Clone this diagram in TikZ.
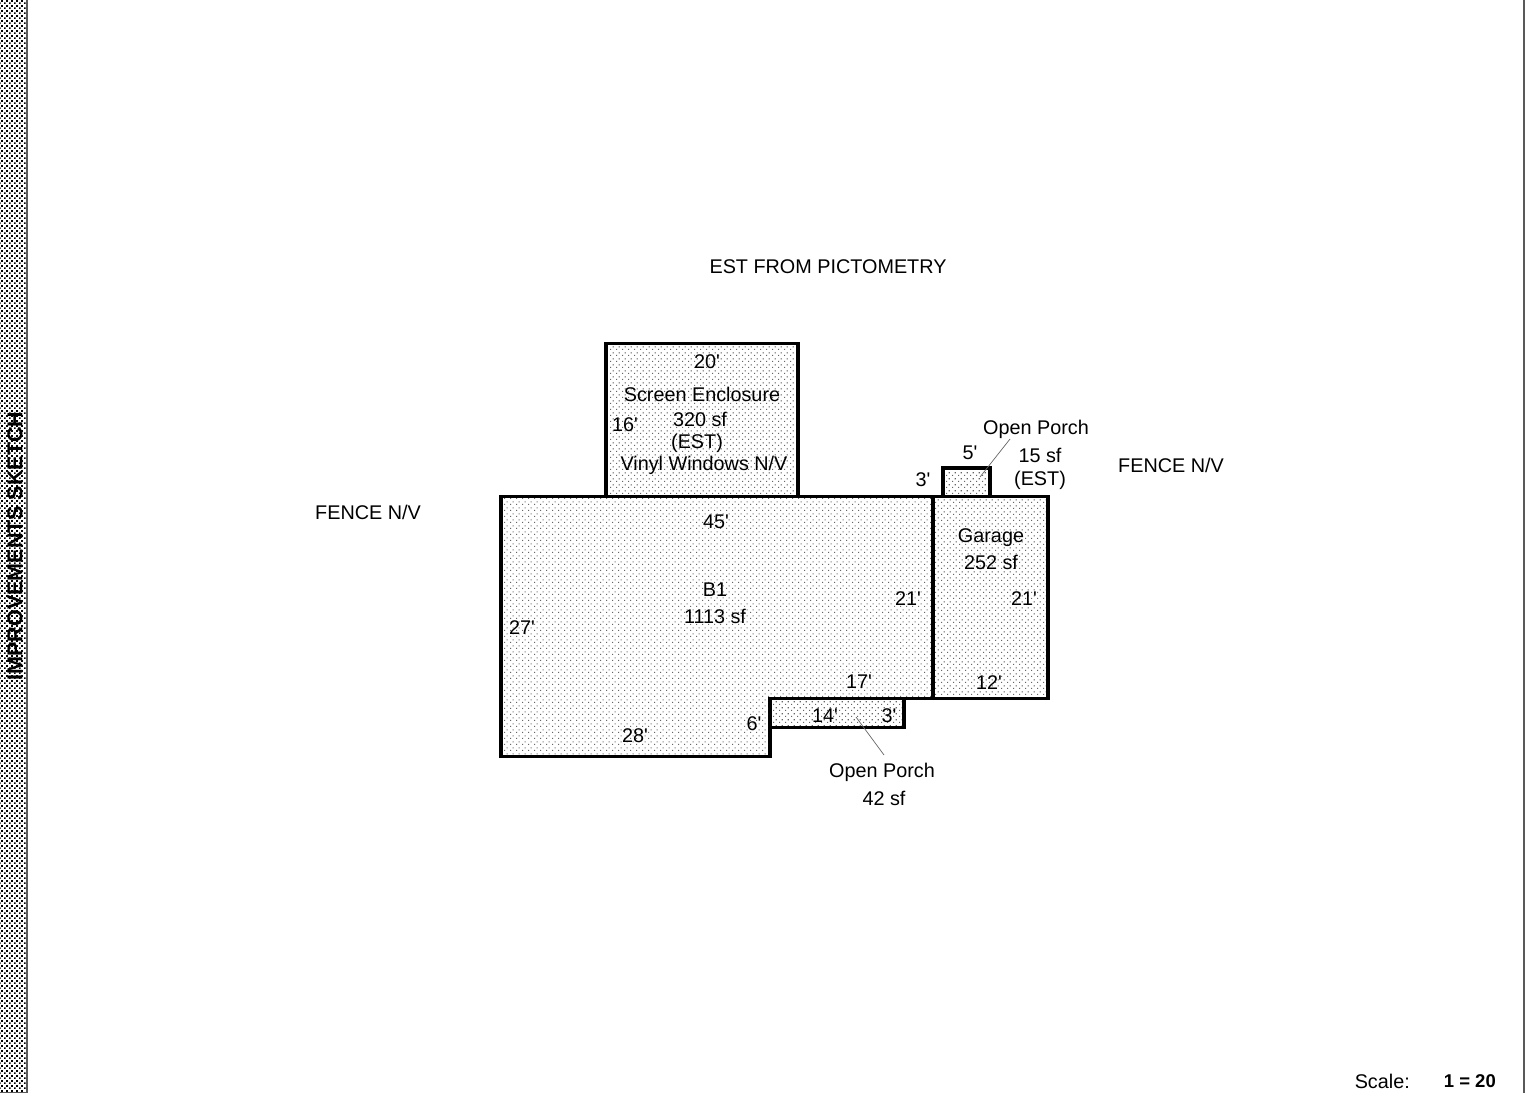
\documentclass[tikz,border=0pt]{standalone}
\usepackage{fontspec}
\newfontfamily\plainf{Liberation Sans}
\usetikzlibrary{patterns}
\pgfdeclarepatternformonly{roomdots}{\pgfpointorigin}{\pgfqpoint{5.6pt}{5.6pt}}{\pgfqpoint{5.6pt}{5.6pt}}{%
  \pgfpathrectangle{\pgfqpoint{0pt}{0pt}}{\pgfqpoint{1.2pt}{1.2pt}}%
  \pgfpathrectangle{\pgfqpoint{2.8pt}{2.8pt}}{\pgfqpoint{1.2pt}{1.2pt}}%
  \pgfusepath{fill}}
\pgfdeclarepatternformonly{sidedots}{\pgfpointorigin}{\pgfqpoint{5pt}{5pt}}{\pgfqpoint{5pt}{5pt}}{%
  \pgfpathrectangle{\pgfqpoint{0pt}{0pt}}{\pgfqpoint{2pt}{2pt}}%
  \pgfpathrectangle{\pgfqpoint{2.5pt}{2.5pt}}{\pgfqpoint{2pt}{2pt}}%
  \pgfusepath{fill}}
\definecolor{dotgray}{gray}{0.4}
\tikzset{
  room/.style={draw=black,line width=3.8pt,line join=miter,pattern=roomdots,pattern color=dotgray},
  lbl/.style={inner sep=0pt,font=\plainf\fontsize{19.8}{23}\selectfont,align=center},
  leader/.style={draw=black!60,line width=0.7pt},
  edge/.style={draw=black!65,line width=1.2pt}
}
\begin{document}
\begin{tikzpicture}[x=1pt,y=-1pt]
\useasboundingbox (0,0) rectangle (1527,1093);
\fill[white] (0,0) rectangle (1527,1093);
% side strip
\fill[pattern=sidedots,pattern color=black] (0,0) rectangle (26,1093);
\draw[edge] (27,0) -- (27,1093);
\draw[edge] (1524,0) -- (1524,1093);
\draw[edge] (27,1092.4) -- (0,1092.4);
\node[rotate=90,font=\plainf\fontsize{21.5}{24}\selectfont\bfseries,inner sep=0pt] (side) at (15,546) {IMPROVEMENTS SKETCH};
% rooms
\path[room] (606,343.5) rectangle (798,496.5);
\path[room] (943,468) rectangle (990,496.5);
\path[room] (770,698.5) rectangle (904,727.5);
\path[room] (501,496.5) -- (933,496.5) -- (933,698.5) -- (770,698.5) -- (770,756.5) -- (501,756.5) -- cycle;
\path[room] (933,496.5) rectangle (1048,698.5);
% labels
\node[lbl] (title) at (828,267) {EST FROM PICTOMETRY};
\node[lbl] (f1) at (368,512) {FENCE N/V};
\node[lbl] (f2) at (1171,465.5) {FENCE N/V};
\node[lbl] (a1) at (707,362) {20'};
\node[lbl] (a2) at (702,394) {Screen Enclosure};
\node[lbl] (a3) at (700,419) {320 sf};
\node[lbl] (a4) at (625,424.5) {16'};
\node[lbl] (a5) at (697,443) {(EST)};
\node[lbl] (a6) at (704,465) {Vinyl Windows N/V};
\node[lbl] (b1) at (1036,429) {Open Porch};
\node[lbl] (b2) at (970,453) {5'};
\node[lbl] (b3) at (1040,455) {15 sf};
\node[lbl] (b4) at (1040,480) {(EST)};
\node[lbl] (b5) at (923,479.5) {3'};
\node[lbl] (c1) at (716,521.5) {45'};
\node[lbl] (c2) at (715,590) {B1};
\node[lbl] (c3) at (715,616.5) {1113 sf};
\node[lbl] (c4) at (522,627.5) {27'};
\node[lbl] (c5) at (908,598.5) {21'};
\node[lbl] (c6) at (859,682) {17'};
\node[lbl] (c7) at (635,736) {28'};
\node[lbl] (c8) at (754,724) {6'};
\node[lbl] (d1) at (991,538) {Garage};
\node[lbl] (d2) at (991,562) {252 sf};
\node[lbl] (d3) at (1024,598.5) {21'};
\node[lbl] (d4) at (989,683) {12'};
\node[lbl] (e1) at (825,715.5) {14'};
\node[lbl] (e2) at (889,715.5) {3'};
\node[lbl] (e3) at (882,772.5) {Open Porch};
\node[lbl] (e4) at (884,798) {42 sf};
\node[lbl,anchor=east] (s1) at (1410,1081) {Scale:};
\node[lbl,anchor=east,font=\plainf\fontsize{18.5}{22}\selectfont\bfseries] (s2) at (1496,1081) {1 = 20};
% leaders
\coordinate (p1) at (980,477);
\coordinate (p1t) at (1010,439);
\coordinate (p2) at (856,717);
\coordinate (p2t) at (884,755);
\draw[leader] (p1t) -- (p1);
\draw[leader] (p2t) -- (p2);
\end{tikzpicture}
\end{document}
